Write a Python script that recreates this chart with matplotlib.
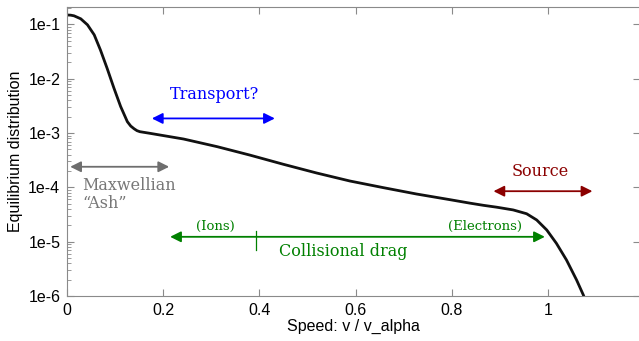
import matplotlib
matplotlib.use("Agg")
import matplotlib.pyplot as plt
from matplotlib.ticker import FixedLocator, FixedFormatter, LogLocator, NullFormatter
import numpy as np

# ---------------------------------------------------------------------------
# Data (speed in units of v_alpha, log10 of f)
# ---------------------------------------------------------------------------
speed = [0.0, 0.007, 0.014, 0.028, 0.042, 0.056, 0.069, 0.083, 0.097, 0.111,
         0.125, 0.132, 0.139, 0.145, 0.151, 0.172, 0.242, 0.312, 0.380, 0.450,
         0.519, 0.588, 0.658, 0.727, 0.797, 0.838, 0.866, 0.894, 0.928, 0.956,
         0.977, 0.998, 1.018, 1.039, 1.060, 1.074, 1.077]
log_f = [-0.825, -0.828, -0.84, -0.895, -1.006, -1.19, -1.47, -1.81, -2.17, -2.51,
         -2.79, -2.87, -2.92, -2.955, -2.974, -3.004, -3.109, -3.25, -3.405, -3.575,
         -3.735, -3.882, -4.005, -4.122, -4.227, -4.29, -4.33, -4.365, -4.415, -4.485,
         -4.60, -4.785, -5.03, -5.337, -5.705, -5.98, -6.05]

yticks = [1e-6, 1e-5, 1e-4, 1e-3, 1e-2, 1e-1]
ytick_labels = ["1e-6", "1e-5", "1e-4", "1e-3", "1e-2", "1e-1"]
xticks = [0, 0.2, 0.4, 0.6, 0.8, 1.0]
xtick_labels = ["0", "0.2", "0.4", "0.6", "0.8", "1"]

SANS = "Liberation Sans"
SERIF = "DejaVu Serif"
SPINE = "#8a8a8a"


def double_arrow(ax, x0, x1, y, color, scale=16):
    ax.annotate("", xy=(x1, y), xytext=(x0, y),
                arrowprops=dict(arrowstyle="<|-|>", color=color, lw=1.3,
                                mutation_scale=scale, shrinkA=0, shrinkB=0))


fig = plt.figure(figsize=(6.39, 3.41), dpi=100)
ax = fig.add_axes([67.3 / 639, 45 / 341, 572.7 / 639, 289 / 341])

ax.plot(speed, 10 ** np.array(log_f), color="#111111", lw=2,
        solid_joinstyle="round")
ax.set_yscale("log")
ax.set_xlim(0, 1.192)
ax.set_ylim(1e-6, 0.21)

ax.yaxis.set_major_locator(FixedLocator(yticks))
ax.yaxis.set_major_formatter(FixedFormatter(ytick_labels))
ax.yaxis.set_minor_locator(LogLocator(base=10, subs=np.arange(2, 10)))
ax.yaxis.set_minor_formatter(NullFormatter())
ax.set_xticks(xticks)
ax.set_xticklabels(xtick_labels)

ax.tick_params(direction="in", which="both", top=True, right=True,
               color=SPINE, labelsize=11.5, pad=5)
ax.tick_params(which="major", length=5)
ax.tick_params(which="minor", length=3, right=False)
for lab in ax.get_xticklabels() + ax.get_yticklabels():
    lab.set_family(SANS)
for sp in ax.spines.values():
    sp.set_color(SPINE)

ax.set_xlabel("Speed: v / v_alpha", family=SANS, fontsize=11.5, labelpad=1)
ax.set_ylabel("Equilibrium distribution", family=SANS, fontsize=11.5, labelpad=4)

# ---- Annotations --------------------------------------------------------
double_arrow(ax, 0.176, 0.432, 10 ** -2.73, "blue")
ax.text(0.307, 10 ** -2.28, "Transport?", color="blue", family=SERIF,
        fontsize=11.5, ha="center", va="center")

double_arrow(ax, 0.006, 0.212, 10 ** -3.62, "#6e6e6e")
ax.text(0.032, 10 ** -4.13, "Maxwellian\n\u201cAsh\u201d", color="#777777",
        family=SERIF, fontsize=11.5, ha="left", va="center", linespacing=1.1)

drag_y = 10 ** -4.91
double_arrow(ax, 0.214, 0.994, drag_y, "green")
ax.plot([0.392, 0.392], [10 ** -4.80, 10 ** -5.15], color="green", lw=0.9)
ax.text(0.309, 10 ** -4.72, "(Ions)", color="green", family=SERIF,
        fontsize=9.5, ha="center", va="center")
ax.text(0.869, 10 ** -4.72, "(Electrons)", color="green", family=SERIF,
        fontsize=9.5, ha="center", va="center")
ax.text(0.574, 10 ** -5.18, "Collisional drag", color="green", family=SERIF,
        fontsize=11.5, ha="center", va="center")

double_arrow(ax, 0.887, 1.093, 10 ** -4.07, "darkred")
ax.text(0.984, 10 ** -3.71, "Source", color="darkred", family=SERIF,
        fontsize=11.5, ha="center", va="center")

fig.savefig("out.png", dpi=100)
